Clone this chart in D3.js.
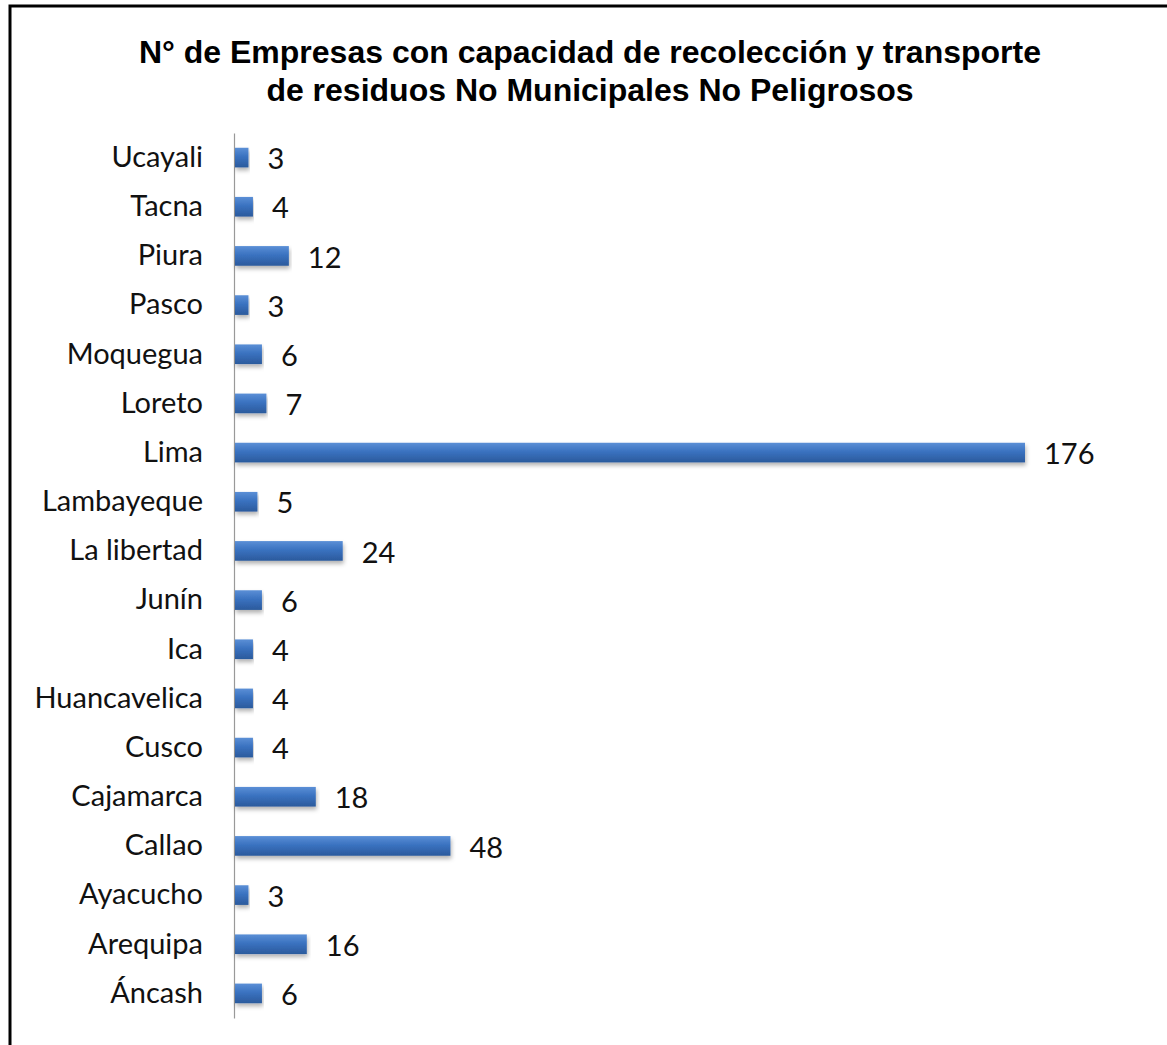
<!DOCTYPE html>
<html>
<head>
<meta charset="utf-8">
<script src="https://cdn.jsdelivr.net/npm/d3@7"></script>
<style>
  body { margin: 0; background: #fff; }
  svg { display: block; }
</style>
</head>
<body>
<div id="chart"></div>
<script>
// Regions, top to bottom as drawn
const regions = ['Ucayali', 'Tacna', 'Piura', 'Pasco', 'Moquegua', 'Loreto', 'Lima', 'Lambayeque',
  'La libertad', 'Junín', 'Ica', 'Huancavelica', 'Cusco', 'Cajamarca', 'Callao', 'Ayacucho',
  'Arequipa', 'Áncash'];
const empresas = [3, 4, 12, 3, 6, 7, 176, 5, 24, 6, 4, 4, 4, 18, 48, 3, 16, 6];
const titleLines = ['N° de Empresas con capacidad de recolección y transporte',
  'de residuos No Municipales No Peligrosos'];

const width = 1167;
const height = 1045;
const margin = { left: 234, top: 133, bottom: 27 };

const svg = d3.select('#chart')
  .append('svg')
  .attr('width', width)
  .attr('height', height);

const defs = svg.append('defs');
const grad = defs.append('linearGradient')
  .attr('id', 'barGrad')
  .attr('x1', 0).attr('y1', 0).attr('x2', 0).attr('y2', 1);
grad.append('stop').attr('offset', '0%').attr('stop-color', '#5b8fd6');
grad.append('stop').attr('offset', '45%').attr('stop-color', '#3a72c0');
grad.append('stop').attr('offset', '100%').attr('stop-color', '#2b5a9c');

const shadow = defs.append('filter').attr('id', 'shadow')
  .attr('x', '-5%').attr('y', '-30%').attr('width', '110%').attr('height', '180%');
shadow.append('feDropShadow')
  .attr('dx', 1).attr('dy', 3).attr('stdDeviation', 2)
  .attr('flood-color', '#000').attr('flood-opacity', 0.3);

// chart frame
svg.append('path')
  .attr('d', `M10,${height + 5} V6 H${width + 5}`)
  .attr('fill', 'none')
  .attr('stroke', '#000')
  .attr('stroke-width', 3);

// title
svg.append('text')
  .attr('x', 590)
  .attr('y', 63)
  .attr('text-anchor', 'middle')
  .style('font-family', 'Liberation Sans, Arial, sans-serif')
  .style('font-weight', 'bold')
  .style('font-size', '32px')
  .selectAll('tspan')
  .data(titleLines)
  .enter().append('tspan')
  .attr('x', 590)
  .attr('dy', (d, i) => i === 0 ? 0 : 38)
  .text(d => d);

const x = d3.scaleLinear()
  .domain([0, 176])
  .range([margin.left, 1024]);

const y = d3.scaleBand()
  .domain(regions)
  .range([margin.top, height - margin.bottom])
  .paddingInner(0.6)
  .paddingOuter(0.3);

const yAxis = svg.append('g')
  .attr('transform', `translate(${margin.left},0)`)
  .call(d3.axisLeft(y).tickSize(0).tickPadding(31));
yAxis.select('.domain').attr('stroke', '#999').attr('stroke-width', 1.2);
yAxis.selectAll('text')
  .style('font-family', 'Lato, "Open Sans", sans-serif')
  .style('font-size', '29px')
  .attr('fill', '#111');

const data = regions.map((r, i) => ({ region: r, value: empresas[i] }));

svg.append('g')
  .selectAll('rect')
  .data(data)
  .enter().append('rect')
  .attr('x', x(0) + 1)
  .attr('y', d => y(d.region))
  .attr('width', d => x(d.value) - x(0))
  .attr('height', y.bandwidth())
  .attr('fill', 'url(#barGrad)')
  .attr('filter', 'url(#shadow)');

svg.append('g')
  .selectAll('text')
  .data(data)
  .enter().append('text')
  .attr('x', d => x(d.value) + 20)
  .attr('y', d => y(d.region) + y.bandwidth() / 2)
  .attr('dy', '0.4em')
  .style('font-family', 'Lato, "Open Sans", sans-serif')
  .style('font-size', '29px')
  .attr('fill', '#111')
  .text(d => d.value);
</script>
</body>
</html>
